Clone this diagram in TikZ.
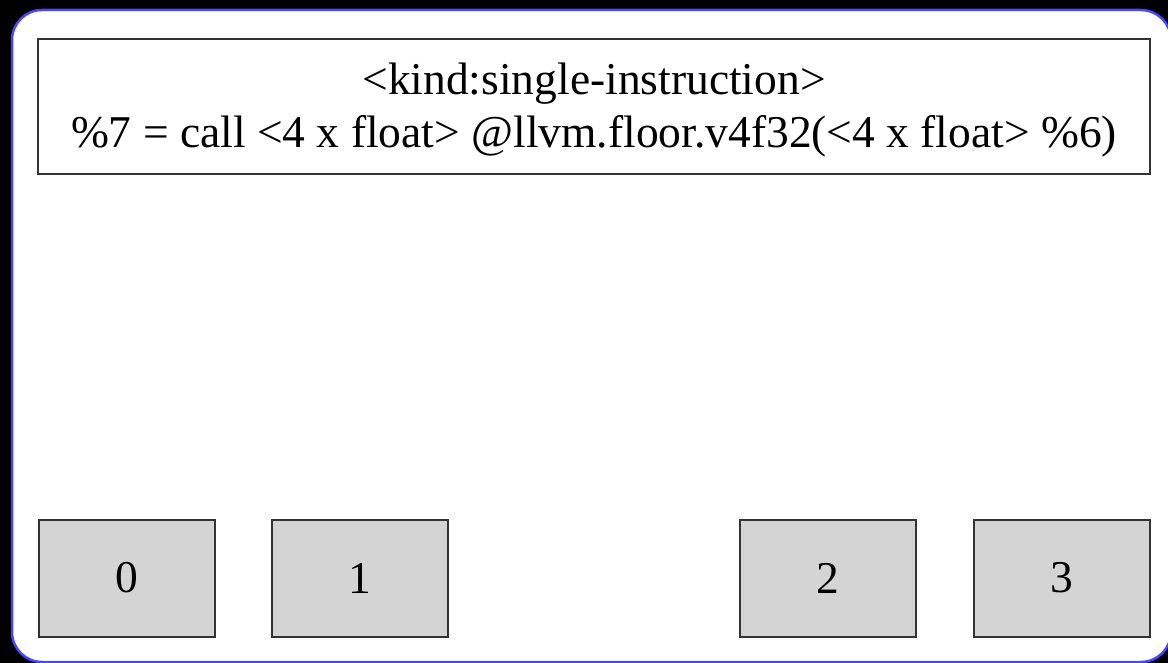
\documentclass[tikz,border=0pt]{standalone}
\usepackage{fontspec}
\setmainfont{Liberation Serif}
\begin{document}
\begin{tikzpicture}[x=1pt,y=-1pt,
  frame/.style={draw={rgb,255:red,70;green,70;blue,255}, line width=2.5pt, fill=white, rounded corners=30pt},
  instrbox/.style={draw=black!80, line width=2pt, fill=white, minimum width=1112pt, minimum height=135pt, inner sep=0pt, align=center, font=\fontsize{45.5}{53}\selectfont},
  lanebox/.style={draw=black!80, line width=2pt, fill=black!17, minimum width=176pt, minimum height=117pt, inner sep=0pt, font=\fontsize{45.5}{53}\selectfont}]
  \useasboundingbox (0,0) rectangle (1168,663);
  \fill[black] (0,0) rectangle (1168,663);
  \begin{scope}
    \clip (0,0) rectangle (1168,663);
    \draw[frame] (12,10) rectangle (1171,662);
  \end{scope}
  \node[instrbox] (instr) at (594,107) {};
  \node[align=center, inner sep=0pt, font=\fontsize{45.5}{53}\selectfont] (instrtext) at (594,110) {<kind:single-instruction>\\\%7 = call <4 x float> @llvm.floor.v4f32(<4 x float> \%6)};
  \node[lanebox] (l0) at (126.5,578) {0};
  \node[lanebox] (l1) at (360,578) {1};
  \node[lanebox] (l2) at (827.5,578) {2};
  \node[lanebox] (l3) at (1061.5,578) {3};
\end{tikzpicture}
\end{document}
